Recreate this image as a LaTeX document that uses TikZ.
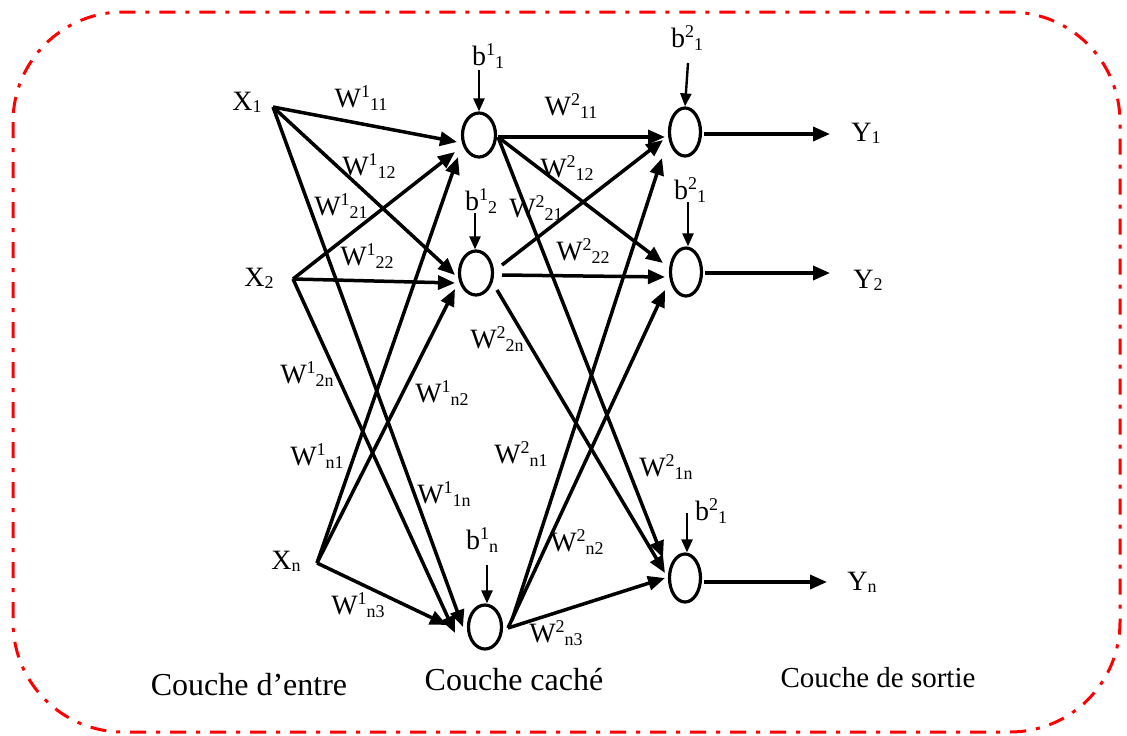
\documentclass[tikz,border=0pt]{standalone}
\usepackage{fontspec}
\setmainfont{Liberation Serif}
\usetikzlibrary{arrows.meta,shapes.geometric,calc}
\newcommand\Sp[1]{\raisebox{0.36em}{\fontsize{18}{18}\selectfont #1}}
\newcommand\Sb[1]{\raisebox{-0.08em}{\fontsize{18}{18}\selectfont #1}}
\begin{document}
\begin{tikzpicture}[x=1pt,y=-1pt,
  hid/.style={draw, ellipse, line width=3.2pt, inner sep=0pt, minimum width=33pt, minimum height=44pt},
  outn/.style={draw, ellipse, line width=3.2pt, inner sep=0pt, minimum width=31pt, minimum height=48pt},
  conn/.style={line width=3.5pt, -{Triangle[length=17pt,width=14pt]}},
  bias/.style={line width=2.4pt, -{Triangle[length=13pt,width=11pt]}},
  lbl/.style={font=\fontsize{28}{32}\selectfont, inner sep=0pt},
  big/.style={font=\fontsize{32}{36}\selectfont, inner sep=0pt},
  frame/.style={draw=red, line width=3pt, dash pattern=on 16pt off 10pt on 4pt off 10pt, rounded corners=110pt}
]
\useasboundingbox (0,0) rectangle (1127,736);
\draw[frame] (13,12) rectangle (1120,732);

% neurons
\node[hid] (H1) at (479,135) {};
\node[hid] (H2) at (476,273) {};
\node[hid] (Hn) at (485,627) {};
\node[outn] (O1) at (685,132) {};
\node[outn] (O2) at (686,272) {};
\node[outn] (On) at (685,578) {};

% inputs
\coordinate (X1) at (273,107);
\coordinate (X2) at (293,279);
\coordinate (Xn) at (317,563);
\node[lbl] (tX1) at (247,102) {X\Sb{1}};
\node[lbl] (tX2) at (259,278) {X\Sb{2}};
\node[lbl] (tXn) at (286,561) {X\Sb{n}};

% layer 1 connectors
\draw[conn] (X1) -- ($(H1)+(-22,7)$);
\draw[conn] (X1) -- ($(H2)+(-21,2)$);
\draw[conn] (X1) -- ($(Hn)+(-22,0)$);
\draw[conn] (X2) -- ($(H1)+(-24,17)$);
\draw[conn] (X2) -- ($(H2)+(-21,10)$);
\draw[conn] (X2) -- ($(Hn)+(-30,6)$);
\draw[conn] (Xn) -- ($(H1)+(-21,22)$);
\draw[conn] (Xn) -- ($(H2)+(-21,16)$);
\draw[conn] (Xn) -- ($(Hn)+(-38,-2)$);

% layer 2 connectors
\draw[conn] ($(H1)+(19,2)$) -- ($(O1)+(-20,5)$);
\draw[conn] ($(H1)+(19,2)$) -- ($(O2)+(-23,-9)$);
\draw[conn] ($(H1)+(19,2)$) -- ($(On)+(-22,-20)$);
\draw[conn] ($(H2)+(26,-8)$) -- ($(O1)+(-22,8)$);
\draw[conn] ($(H2)+(26,2)$) -- ($(O2)+(-21,5)$);
\draw[conn] ($(H2)+(21,17)$) -- ($(On)+(-20,-5)$);
\draw[conn] ($(Hn)+(27,-7)$) -- ($(O1)+(-23,26)$);
\draw[conn] ($(Hn)+(23,1)$) -- ($(O2)+(-21,18)$);
\draw[conn] ($(Hn)+(23,1)$) -- ($(On)+(-20,0)$);

% outputs
\coordinate (Y1e) at (830,134);
\coordinate (Y2e) at (830,273);
\coordinate (Yne) at (827,582);
\draw[conn] (O1.east) ++(2,2) -- (Y1e);
\draw[conn] (O2.east) ++(2,1) -- (Y2e);
\draw[conn] (On.east) ++(2,4) -- (Yne);
\node[lbl] (tY1) at (866,133) {Y\Sb{1}};
\node[lbl] (tY2) at (868,280) {Y\Sb{2}};
\node[lbl] (tYn) at (862,582) {Y\Sb{n}};

% biases
\coordinate (bH1) at (479,70);
\coordinate (bO1) at (688,63);
\coordinate (bH2) at (475,213);
\coordinate (bO2) at (688,202);
\coordinate (bHn) at (487,565);
\coordinate (bOn) at (687,513);
\draw[bias] (bH1) -- (H1.north);
\draw[bias] (bO1) -- (O1.north);
\draw[bias] (bH2) -- ($(H2.north)+(-1,0)$);
\draw[bias] (bO2) -- ($(O2.north)+(2,0)$);
\draw[bias] (bHn) -- ($(Hn.north)+(2,0)$);
\draw[bias] (bOn) -- ($(On.north)+(2,0)$);
\node[lbl] (tb11) at (488,56) {b\Sp{1}\Sb{1}};
\node[lbl] (tb21a) at (687,38) {b\Sp{2}\Sb{1}};
\node[lbl] (tb12) at (481,201) {b\Sp{1}\Sb{2}};
\node[lbl] (tb21b) at (690,190) {b\Sp{2}\Sb{1}};
\node[lbl] (tb1n) at (482,540) {b\Sp{1}\Sb{n}};
\node[lbl] (tb21c) at (711,511) {b\Sp{2}\Sb{1}};

% weight labels
\node[lbl] (w111) at (361,98) {W\Sp{1}\Sb{11}};
\node[lbl] (w112) at (369,166) {W\Sp{1}\Sb{12}};
\node[lbl] (w121) at (341,206) {W\Sp{1}\Sb{21}};
\node[lbl] (w122) at (367,256) {W\Sp{1}\Sb{22}};
\node[lbl] (w12n) at (307,374) {W\Sp{1}\Sb{2n}};
\node[lbl] (w1n2) at (442,393) {W\Sp{1}\Sb{n2}};
\node[lbl] (w1n1) at (317,456) {W\Sp{1}\Sb{n1}};
\node[lbl] (w11n) at (444,494) {W\Sp{1}\Sb{1n}};
\node[lbl] (w1n3) at (358,605) {W\Sp{1}\Sb{n3}};
\node[lbl] (w211) at (571,106) {W\Sp{2}\Sb{11}};
\node[lbl] (w212) at (567,168) {W\Sp{2}\Sb{12}};
\node[lbl] (w221) at (536,208) {W\Sp{2}\Sb{21}};
\node[lbl] (w222) at (583,251) {W\Sp{2}\Sb{22}};
\node[lbl] (w22n) at (497,339) {W\Sp{2}\Sb{2n}};
\node[lbl] (w2n1) at (521,454) {W\Sp{2}\Sb{n1}};
\node[lbl] (w21n) at (666,467) {W\Sp{2}\Sb{1n}};
\node[lbl] (w2n2) at (577,542) {W\Sp{2}\Sb{n2}};
\node[lbl] (w2n3) at (556,633) {W\Sp{2}\Sb{n3}};

% layer names
\node[big] (L1) at (249,685) {Couche d’entre};
\node[big] (L2) at (514,680) {Couche caché};
\node[big, font=\fontsize{29}{33}\selectfont] (L3) at (878,678) {Couche de sortie};
\end{tikzpicture}
\end{document}
